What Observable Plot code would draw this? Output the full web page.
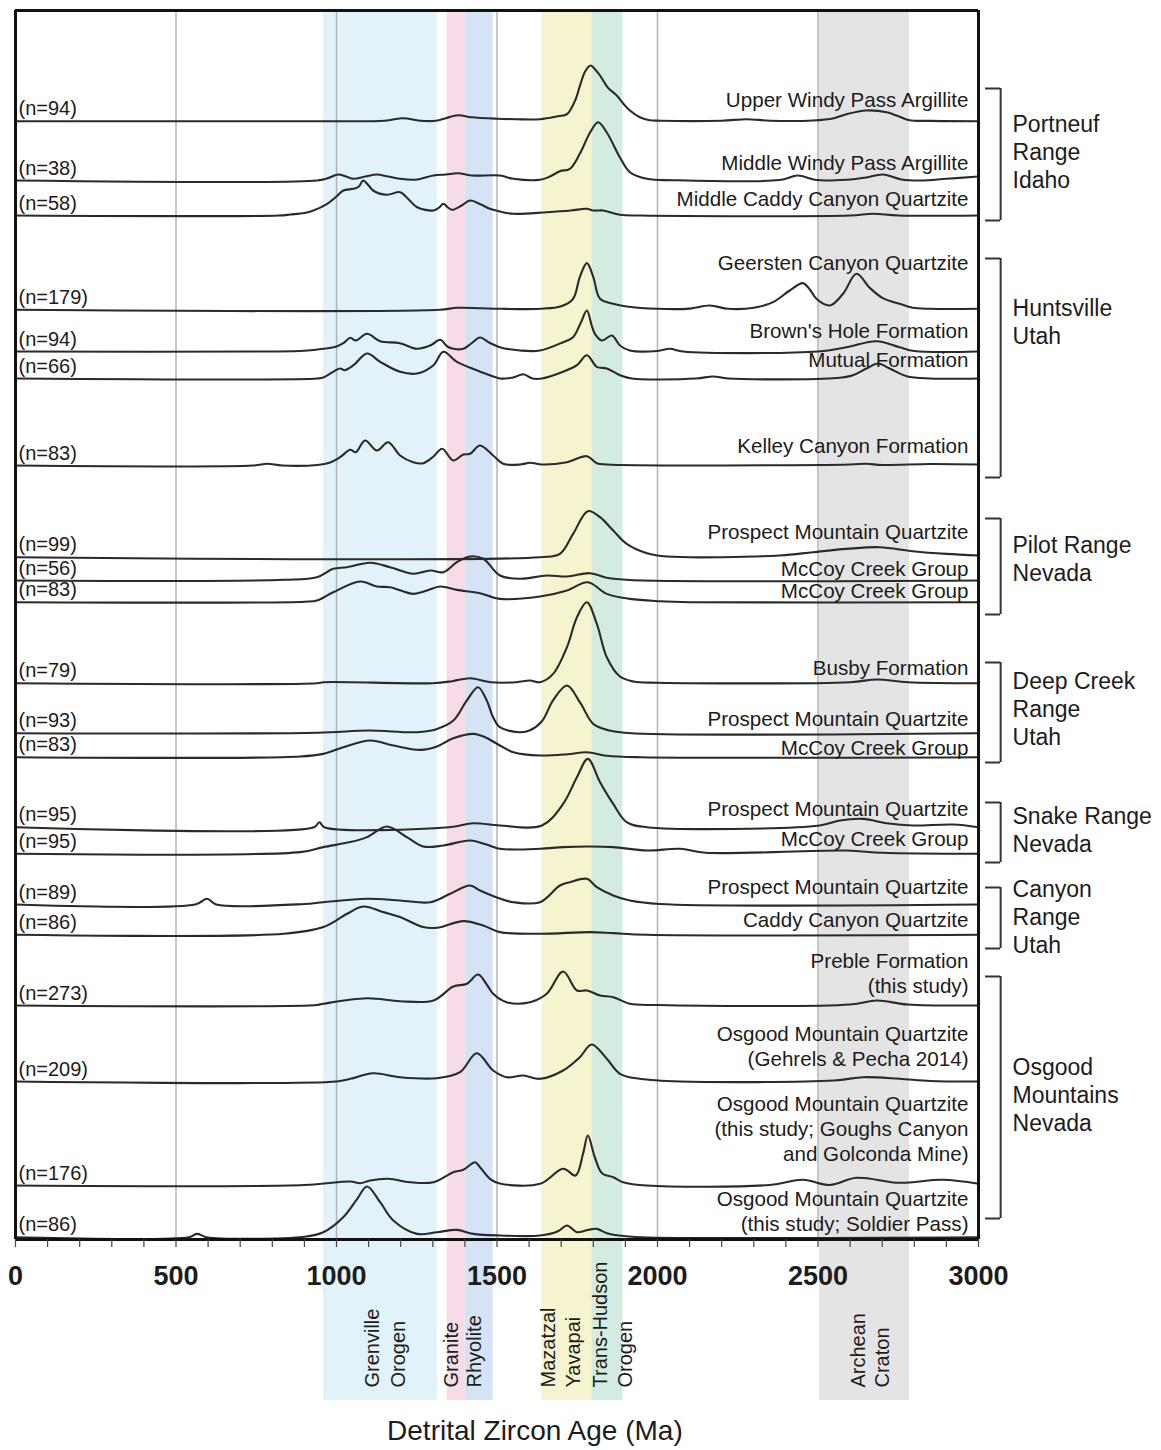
<!DOCTYPE html>
<html><head><meta charset="utf-8">
<script src="https://cdn.jsdelivr.net/npm/d3@7"></script>
<script src="https://cdn.jsdelivr.net/npm/@observablehq/plot@0.6"></script>
<style>body{margin:0;background:#fff}</style>
</head><body><div id="chart"></div>
<script>
// ---------- DATA ----------
const sampleNames = [
  "Upper Windy Pass Argillite",
  "Middle Windy Pass Argillite",
  "Middle Caddy Canyon Quartzite",
  "Geersten Canyon Quartzite",
  "Brown's Hole Formation",
  "Mutual Formation",
  "Kelley Canyon Formation",
  "Prospect Mountain Quartzite",
  "McCoy Creek Group",
  "McCoy Creek Group",
  "Busby Formation",
  "Prospect Mountain Quartzite",
  "McCoy Creek Group",
  "Prospect Mountain Quartzite",
  "McCoy Creek Group",
  "Prospect Mountain Quartzite",
  "Caddy Canyon Quartzite",
  "Preble Formation\n(this study)",
  "Osgood Mountain Quartzite\n(Gehrels & Pecha 2014)",
  "Osgood Mountain Quartzite\n(this study; Goughs Canyon\nand Golconda Mine)",
  "Osgood Mountain Quartzite\n(this study; Soldier Pass)"
];
const sampleN = [94, 38, 58, 179, 94, 66, 83, 99, 56, 83, 79, 93, 83, 95, 95, 89, 86, 273, 209, 176, 86];
// stacking offset of each probability curve (same units as density heights)
const sampleOffsets = [1118.3, 1059, 1024, 929.7, 888, 861, 774, 682.3, 659, 637.3, 556.3, 506.3, 482.3, 412.3, 385.7, 335, 304.7, 234, 158, 54, 2.3];
// relative probability curves: [age (Ma), density]
const sampleCurves = [
  [[0,0],[950,0],[1150,0.5],[1208,3],[1260,0.5],[1310,0.5],[1340,3],[1379,6],[1420,4],[1500,2.5],[1560,2],[1634,2],[1690,5],[1718,7],[1745,22],[1758,35],[1775,50],[1792,55.7],[1805,52],[1821,45.7],[1846,33.3],[1873,25.7],[1895,17],[1914,10.7],[1945,4],[1975,1],[2010,0.5],[2200,0.5],[2278,2],[2350,0.5],[2484,0.7],[2550,3],[2589,7],[2651,10.7],[2714,9],[2745,5.7],[2785,1],[2850,0.3],[3000,0]],
  [[0,0],[940,0],[970,2],[1006,6],[1030,4],[1053,1.7],[1090,4],[1126,6],[1160,4],[1198,1.7],[1251,1],[1302,5],[1340,6],[1379,7.3],[1420,5],[1509,5],[1551,1.7],[1634,0.7],[1665,4],[1696,9.3],[1727,11.7],[1758,26.7],[1790,48],[1815,58.3],[1842,48],[1883,23],[1914,8.3],[1967,1.7],[2050,0.3],[2380,0.5],[2437,5],[2495,0.5],[2589,0.8],[2650,3],[2702,6],[2760,1],[2820,0],[2900,1.7],[3000,4]],
  [[0,0],[820,0],[856,1],[900,2.5],[928,5],[971,11.7],[1000,19],[1021,25],[1053,26.7],[1070,29],[1083,35],[1100,30],[1114,25],[1157,20.7],[1198,23.3],[1225,16],[1251,8.3],[1302,5],[1320,8],[1333,11.7],[1347,8],[1360,5.7],[1390,10],[1416,15],[1450,11],[1478,6.7],[1509,4],[1551,1.7],[1655,3.3],[1730,5],[1780,6.7],[1800,5],[1831,5],[1883,0.7],[1950,0],[2600,0],[2671,1.7],[2750,0],[3000,0]],
  [[0,0],[1320,0],[1375,2],[1450,1.5],[1509,1],[1634,1],[1700,3.5],[1737,11],[1758,32.7],[1780,46.7],[1800,32.7],[1821,11],[1862,6],[1904,3.3],[2000,1],[2100,1.2],[2163,4.3],[2220,1],[2300,2],[2360,7.7],[2412,19.3],[2453,26.7],[2475,20],[2495,11],[2537,4.3],[2578,16],[2620,36],[2661,22],[2702,11.7],[2754,6],[2795,2],[2850,1],[3000,1]],
  [[0,0],[800,0],[900,0.8],[959,2.7],[1000,5],[1021,8.3],[1043,13.7],[1060,11],[1095,17.7],[1136,10.3],[1198,8.3],[1251,2.7],[1292,6],[1323,11.7],[1345,5],[1364,2.7],[1395,2.7],[1420,8],[1447,14],[1475,9],[1509,4.3],[1572,1],[1634,1],[1706,9.3],[1737,14.3],[1760,28],[1780,41],[1795,26],[1805,17.7],[1827,11],[1858,16],[1883,6],[1914,1],[2000,0.5],[2039,2.7],[2080,0],[2500,0],[2589,4.3],[2683,10.3],[2754,4.3],[2800,0.5],[3000,0]],
  [[0,0],[940,0],[959,1],[1011,10],[1025,8.3],[1053,13.3],[1095,25],[1136,16.7],[1198,6.7],[1251,5],[1302,13.3],[1333,26.7],[1375,16.7],[1437,8.3],[1480,3],[1509,0],[1550,1],[1582,4.3],[1610,0],[1640,0],[1706,6.7],[1749,13.3],[1780,23.3],[1811,11.7],[1842,10],[1883,3.3],[1920,0],[2120,0],[2173,2],[2220,0],[2560,0.5],[2609,3.3],[2651,10],[2687,15],[2723,10],[2776,2.3],[2850,0],[3000,0]],
  [[0,0],[740,0],[784,1.7],[830,0],[940,0.5],[980,3],[1011,8.3],[1043,15.7],[1060,13.3],[1089,25],[1126,15],[1161,23.3],[1198,10],[1239,3.3],[1270,2.3],[1302,9],[1329,16.7],[1364,5],[1395,11],[1416,11.7],[1447,20],[1488,10],[1519,1.7],[1572,1],[1603,2.7],[1640,1],[1718,3.3],[1780,9.3],[1811,2.3],[1842,1],[2600,1],[2650,1.7],[2700,0.5],[2850,1.5],[3000,1]],
  [[0,0],[1634,0],[1696,3.3],[1737,23.3],[1783,46],[1821,40],[1862,26.7],[1904,13.3],[1967,4],[2030,0.7],[2381,1.7],[2484,5],[2589,8.3],[2692,10],[2795,6],[2900,3.3],[3000,1.7]],
  [[0,0],[835,0.7],[939,3.3],[990,11.7],[1033,13.3],[1105,17.7],[1167,13.3],[1239,6.7],[1292,10],[1333,8.3],[1375,18.3],[1416,24],[1457,21.7],[1509,5],[1572,1.7],[1655,5],[1718,4],[1790,7.3],[1842,2.7],[1914,0.5],[3000,0]],
  [[0,0],[900,0.5],[939,1.7],[990,10],[1074,20.7],[1126,15.7],[1167,15],[1239,8.3],[1282,11.7],[1323,15.7],[1375,12.3],[1447,9],[1509,3.3],[1634,5.7],[1718,11.7],[1783,20],[1842,8.3],[1914,3.3],[2007,1],[2100,0],[3000,0]],
  [[0,0],[940,0],[960,1],[1300,0],[1360,2],[1416,5],[1480,1],[1560,1],[1603,2.7],[1634,1],[1675,9.3],[1718,36],[1749,66],[1780,81],[1811,59.3],[1842,26],[1883,6.7],[1925,1.7],[2000,0.5],[2600,1],[2683,3.7],[2780,1],[3000,0]],
  [[0,0],[940,0.5],[1100,2.7],[1251,1],[1313,4.3],[1364,12.7],[1406,32.7],[1441,46],[1468,32.7],[1488,16],[1509,6],[1572,1],[1603,3],[1640,12],[1675,33],[1718,47.7],[1760,30],[1800,9.3],[1850,2.7],[1920,0],[3000,0]],
  [[0,0],[887,0.7],[959,3.3],[1021,10],[1105,16.7],[1177,11.7],[1261,7.3],[1313,10.7],[1364,19],[1426,23.3],[1447,22],[1470,19],[1509,11.7],[1551,5],[1634,1.7],[1720,3],[1780,5],[1842,1.5],[1950,0],[3000,0]],
  [[0,0],[930,0],[947,5],[962,0],[1350,0],[1426,4],[1509,1.7],[1640,1.7],[1706,23.3],[1749,50],[1783,68.3],[1821,45],[1862,23.3],[1904,5],[1967,0],[2505,1.7],[2568,6.7],[2641,8.3],[2714,4],[2795,1.7],[2920,2.7],[3000,0]],
  [[0,0],[887,1.7],[959,6.7],[1043,11.7],[1095,16.7],[1157,27.3],[1219,16.7],[1270,7.3],[1333,8.3],[1416,13.3],[1470,9],[1509,5],[1634,5],[1706,6.7],[1790,7.3],[1862,6.7],[1967,3.3],[2070,5],[2150,1],[2589,3.3],[2700,1],[3000,0]],
  [[0,0],[560,0],[597,5.7],[625,0],[900,0.5],[959,2.3],[1095,5.7],[1198,4],[1292,2.3],[1354,10.7],[1416,19],[1447,14],[1509,6],[1551,2.3],[1634,2.3],[1696,19],[1727,22.3],[1780,25.7],[1811,17.3],[1862,9],[1914,4],[2007,0.5],[3000,0]],
  [[0,0],[836,1],[959,7.7],[1033,21],[1083,28.3],[1145,22.7],[1198,17.7],[1270,7.7],[1313,7],[1395,13.7],[1457,9.3],[1509,2.7],[1634,1],[1790,2.7],[1862,1.7],[1967,0],[3000,0]],
  [[0,0],[940,0.5],[959,1.7],[1095,7.3],[1198,4.3],[1302,5],[1364,19],[1406,21.7],[1441,31],[1470,20],[1488,11.7],[1530,3.3],[1603,3.3],[1655,11.7],[1706,34],[1749,15],[1780,15],[1821,10],[1862,8.3],[1914,1.7],[2000,0.5],[2600,1],[2683,5],[2780,1],[3000,0]],
  [[0,0],[1000,0],[1043,2.7],[1114,8.3],[1198,4.3],[1313,3.3],[1385,9.3],[1437,28.3],[1488,11],[1530,4.3],[1582,6],[1634,2.7],[1706,11],[1758,24.3],[1795,37],[1842,22.7],[1883,7.7],[1945,2.7],[2070,0],[2550,1],[2641,4.3],[2754,2.7],[2850,0.5],[3000,0]],
  [[0,0],[900,0.5],[1043,4],[1074,2.3],[1105,5],[1161,6.7],[1229,3.3],[1302,3.3],[1364,13.3],[1395,15.7],[1432,23.3],[1447,18.3],[1478,6.7],[1509,2],[1634,1.7],[1706,16.7],[1745,10],[1768,31.7],[1783,50],[1805,28],[1827,12.3],[1862,8.3],[1893,3.3],[1967,0],[2350,0.5],[2453,5.7],[2537,0.5],[2620,7.7],[2754,2.7],[2889,5.7],[3000,1.7]],
  [[0,0],[540,0],[566,3.3],[595,0],[900,0.5],[959,5],[1021,20],[1064,38],[1095,50.7],[1136,35],[1177,16.7],[1251,3.3],[1313,5],[1375,7.3],[1426,3.3],[1509,1.7],[1634,1.7],[1690,6],[1718,11.7],[1749,5],[1780,7],[1811,8.3],[1842,4],[1880,1.7],[1950,0],[3000,0]]
];

// source provinces (age ranges, Ma)
const bandNames  = ["Grenville", "Granite", "Rhyolite", "Mazatzal-Yavapai", "Trans-Hudson", "Archean"];
const bandStart  = [959, 1345, 1401, 1640, 1796, 2505];
const bandEnd    = [1314, 1401, 1488, 1796, 1892, 2785];
const bandColors = ["#e1f2f9", "#f7dbe8", "#d4e4f4", "#f5f4cf", "#d3ebe0", "#e4e4e4"];
const bandLabelText = ["Grenville", "Orogen", "Granite", "Rhyolite", "Mazatzal", "Yavapai", "Trans-Hudson", "Orogen", "Archean", "Craton"];
const bandLabelAge  = [1111, 1192, 1357, 1429, 1662, 1740, 1824, 1902, 2627, 2701];

// locality groups
const groupNames  = ["Portneuf\nRange\nIdaho", "Huntsville\nUtah", "Pilot Range\nNevada", "Deep Creek\nRange\nUtah", "Snake Range\nNevada", "Canyon\nRange\nUtah", "Osgood\nMountains\nNevada"];
const groupTop    = [1151, 981, 721, 577, 437, 352, 263];
const groupBottom = [1019, 762, 625, 477, 377, 291, 21];

const majorTicks = [0, 500, 1000, 1500, 2000, 2500, 3000];
const gridAges   = [500, 1000, 1500, 2000, 2500];
const minorTicks = d3.range(0, 3001, 100);

// ---------- LAYOUT ----------
const nameLift  = [14, 11, 9.3, 40, 14, 12, 13, 18.7, 5, 4, 8.7, 7.7, 2.7, 11.7, 8.3, 11, 7.6, 12.3, 16, 25, 6.7];
const groupTextY = [1052, 896, 659, 494.5, 388, 287, 109];
const TOP = 1229, AX = 0;

const curvePts = sampleCurves.flatMap((pts, i) => pts.map(([age, h]) => ({sample: i, age, y: sampleOffsets[i] + h})));
const samples = sampleNames.map((name, i) => ({name, n: sampleN[i], off: sampleOffsets[i], lift: nameLift[i]}));
const bands = bandNames.map((b, i) => ({b, x1: bandStart[i], x2: bandEnd[i], fill: bandColors[i]}));
const bandLabels = bandLabelText.map((t, i) => ({t, x: bandLabelAge[i]}));
const groups = groupNames.map((g, i) => ({g, top: groupTop[i], bottom: groupBottom[i], ty: groupTextY[i]}));

const BX1 = 3022, BX2 = 3069, GX = 3106;
const ink = "#1c1c1c";

const chart = Plot.plot({
  width: 1161, height: 1450,
  marginLeft: 15, marginRight: 183, marginTop: 10, marginBottom: 50,
  x: {domain: [0, 3000], axis: null},
  y: {domain: [-161, TOP], axis: null},
  style: {fontFamily: "'Liberation Sans', Arial, Helvetica, sans-serif", background: "#fff", color: ink},
  marks: [
    Plot.rect(bands, {x1: "x1", x2: "x2", y1: -161, y2: TOP, fill: "fill"}),
    Plot.ruleX(gridAges, {y1: AX, y2: TOP, stroke: "#b3b3b3", strokeWidth: 1.5}),
    Plot.line(curvePts, {x: "age", y: "y", z: "sample", curve: "catmull-rom", stroke: "#2a2a2a", strokeWidth: 2.1}),
    // frame
    Plot.ruleX([0, 3000], {y1: AX, y2: TOP, stroke: "#111", strokeWidth: 3}),
    Plot.ruleY([AX, TOP], {x1: 0, x2: 3000, stroke: "#111", strokeWidth: 3}),
    Plot.ruleX(minorTicks, {y1: AX, y2: -8, stroke: "#444", strokeWidth: 1.2}),
    Plot.text(majorTicks, {x: d => d, y: -37, text: d => String(d), fontSize: 27, fontWeight: "bold", fill: ink}),
    Plot.text(["Detrital Zircon Age (Ma)"], {x: 1618, y: -192, text: d => d, fontSize: 28, fill: ink}),
    // province labels
    Plot.text(bandLabels, {x: "x", y: -148, text: "t", rotate: -90, textAnchor: "start", fontSize: 20, fill: ink}),
    // sample labels
    Plot.text(samples, {x: 0, y: "off", dx: 3, dy: -6, text: d => `(n=${d.n})`, textAnchor: "start", lineAnchor: "bottom", fontSize: 20, fill: ink}),
    Plot.text(samples, {x: 3000, y: d => d.off + d.lift, dx: -10, text: "name", textAnchor: "end", lineAnchor: "bottom", lineHeight: 1.2, fontSize: 20.6, fill: ink}),
    // group brackets
    Plot.ruleX(groups, {x: BX2, y1: "bottom", y2: "top", stroke: "#333", strokeWidth: 2}),
    Plot.ruleY(groups, {y: "top", x1: BX1, x2: BX2, stroke: "#333", strokeWidth: 2}),
    Plot.ruleY(groups, {y: "bottom", x1: BX1, x2: BX2, stroke: "#333", strokeWidth: 2}),
    Plot.text(groups, {x: GX, y: "ty", text: "g", textAnchor: "start", lineAnchor: "bottom", lineHeight: 1.217, fontSize: 23, fill: ink})
  ]
});
document.getElementById("chart").appendChild(chart);
</script></body></html>
